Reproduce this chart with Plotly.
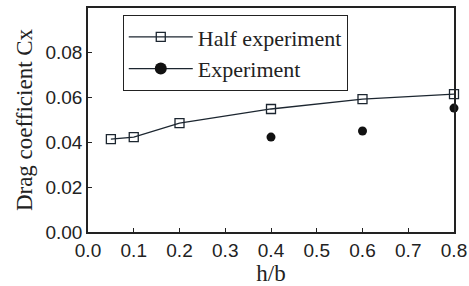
import plotly.graph_objects as go

half_x = [0.05, 0.1, 0.2, 0.4, 0.6, 0.8]
half_y = [0.0413, 0.0422, 0.0484, 0.0547, 0.0591, 0.0613]
exp_x = [0.4, 0.6, 0.8]
exp_y = [0.0422, 0.0449, 0.0551]
x_ticks = [0.0, 0.1, 0.2, 0.3, 0.4, 0.5, 0.6, 0.7, 0.8]
y_ticks = [0.00, 0.02, 0.04, 0.06, 0.08]

fig = go.Figure()
fig.add_trace(go.Scatter(
    x=half_x, y=half_y, mode="lines+markers", name="Half experiment",
    line=dict(color="#1c2630", width=1.3),
    marker=dict(symbol="square-open", size=9, color="#1c2630", line=dict(width=1.3)),
    cliponaxis=False,
))
fig.add_trace(go.Scatter(
    x=exp_x, y=exp_y, mode="markers", name="Experiment", showlegend=False,
    marker=dict(symbol="circle", size=9, color="#111111"),
    cliponaxis=False,
))
fig.add_trace(go.Scatter(
    x=[None], y=[None], mode="lines+markers", name="Experiment",
    line=dict(color="#1c2630", width=1.3),
    marker=dict(symbol="circle", size=12, color="#111111"),
))

fig.update_layout(
    width=469, height=286,
    margin=dict(l=88, r=15, t=8, b=54, autoexpand=False),
    paper_bgcolor="white", plot_bgcolor="white",
    showlegend=True,
    legend=dict(
        x=0.095, y=0.968, xanchor="left", yanchor="top",
        bordercolor="#222", borderwidth=1, bgcolor="white",
        font=dict(family="Liberation Serif", size=22, color="#222"),
        tracegroupgap=0, itemwidth=64,
    ),
)
fig.update_xaxes(
    range=[0, 0.8], tickvals=x_ticks, ticktext=[f"{v:.1f}" for v in x_ticks],
    showline=True, linecolor="#222", linewidth=1.5, mirror=True,
    ticks="inside", ticklen=4, tickcolor="#222", showgrid=False, zeroline=False,
    tickfont=dict(family="Liberation Sans", size=19, color="#222"),
    ticklabeloverflow="allow",
    title=dict(text="h/b", font=dict(family="Liberation Serif", size=23, color="#222"), standoff=4),
    automargin=False,
)
fig.update_yaxes(
    range=[0, 0.0996], tickvals=y_ticks, ticktext=[f"{v:.2f}" for v in y_ticks],
    showline=True, linecolor="#222", linewidth=1.5, mirror=True,
    ticks="inside", ticklen=4, tickcolor="#222", showgrid=False, zeroline=False,
    tickfont=dict(family="Liberation Sans", size=19, color="#222"),
    ticklabeloverflow="allow",
    title=dict(text="Drag coefficient Cx", font=dict(family="Liberation Serif", size=23, color="#222"), standoff=6),
    automargin=False,
)

fig.write_html(
    "out.html",
    config={"displayModeBar": False},
    post_script="document.body.style.margin='0';document.body.style.overflow='hidden';",
)
